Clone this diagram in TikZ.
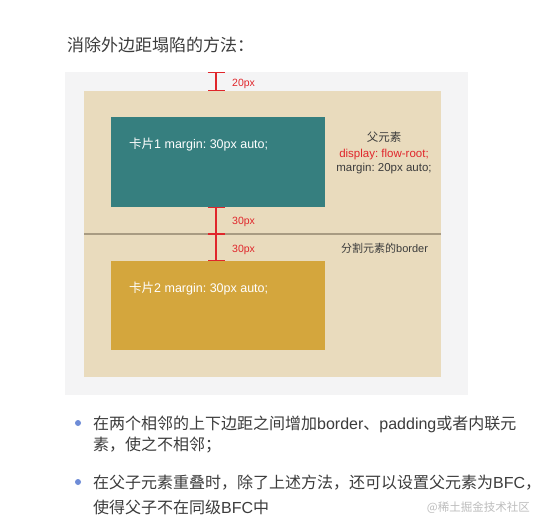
\documentclass[tikz,border=0pt]{standalone}
\usepackage{fontspec}
\setmainfont{Liberation Sans}
\newfontfamily\cjk{Noto Sans CJK SC}
\newcommand{\zh}[1]{{\cjk #1}}
\usetikzlibrary{arrows.meta}
\frenchspacing

\definecolor{pagegray}{HTML}{F4F4F5}
\definecolor{parenttan}{HTML}{E9DBBD}
\definecolor{cardteal}{HTML}{367F7F}
\definecolor{cardgold}{HTML}{D4A63D}
\definecolor{borderline}{HTML}{A89B82}
\definecolor{measurered}{HTML}{E0262B}
\definecolor{bodytext}{HTML}{3C3C3C}
\definecolor{bulletblue}{HTML}{6E8CD7}
\definecolor{marktext}{HTML}{BDBDBD}

\begin{document}
\begin{tikzpicture}
                [
                    x=1pt,y=-1pt,
                    box/.style={rectangle,draw=none,inner sep=0,anchor=north west},
                    cardtext/.style={anchor=base west,inner sep=0,text=white,font=\fontsize{12.5}{14}\selectfont},
                    note/.style={anchor=base,inner sep=0,text=#1,font=\fontsize{11.5}{13}\selectfont},
                    measure/.style={{Bar[width=17pt]}-{Bar[width=17pt]},line width=1.1pt,draw=measurered},
                    gaplabel/.style={anchor=base west,inner sep=0,text=measurered,font=\fontsize{10.5}{12}\selectfont},
                    bullettext/.style={anchor=base west,inner sep=0,text=bodytext,font=\fontsize{16}{21}\selectfont},
                ]
                \useasboundingbox (0,0) rectangle (546,526);
                \fill[white] (0,0) rectangle (546,526);

                % heading
                \node[anchor=base west,inner sep=0,text=bodytext,font=\fontsize{17}{20}\selectfont]
                    (title) at (67,52) {\zh{消除外边距塌陷的方法：}};

                % boxes
                \node[box,fill=pagegray,minimum width=403,minimum height=323] (bg) at (65,72) {};
                \node[box,fill=parenttan,minimum width=357,minimum height=286] (parent) at (84,91) {};
                \node[box,fill=cardteal,minimum width=214,minimum height=90] (card1) at (111,117) {};
                \node[box,fill=cardgold,minimum width=214,minimum height=89] (card2) at (111,261) {};
                \node[cardtext] (text1) at (129,149) {\zh{卡片}1 margin: 30px auto;};
                \node[cardtext] (text2) at (129,293) {\zh{卡片}2 margin: 30px auto;};

                % divider
                \coordinate (bl) at (84,234);
                \coordinate (br) at (441,234);
                \draw[borderline,line width=1.2pt] (bl) -- (br);

                % parent notes
                \node[note=bodytext] (pname) at (384,142) {\zh{父元素}};
                \node[note=measurered] (pdisplay) at (384,158) {display: flow-root;};
                \node[note=bodytext] (pmargin) at (384,172) {margin: 20px auto;};
                \node[note=bodytext,anchor=base west,font=\fontsize{11}{13}\selectfont] (bname) at (341,253) {\zh{分割元素的}border};

                % gaps
                \coordinate (gap) at (216,0);
                \draw[measure] (gap |- bg.north) -- (gap |- parent.north);
                \draw[measure] (gap |- card1.south) -- (gap |- bl);
                \draw[measure] (gap |- bl) -- (gap |- card2.north);
                \node[gaplabel] (g1) at (232,87) {20px};
                \node[gaplabel] (g2) at (232,225) {30px};
                \node[gaplabel] (g3) at (232,253) {30px};

                % bullet list
                \fill[bulletblue] (78,423) circle (3);
                \node[bullettext] (item1a) at (93,429) {\zh{在两个相邻的上下边距之间增加}border\zh{、}padding\zh{或者内联元}};
                \node[bullettext] (item1b) at (93,450) {\zh{素，使之不相邻；}};
                \fill[bulletblue] (78,482) circle (3);
                \node[bullettext] (item2a) at (93,488) {\zh{在父子元素重叠时，除了上述方法，还可以设置父元素为}BFC\zh{，}};
                \node[bullettext] (item2b) at (93,513) {\zh{使得父子不在同级}BFC\zh{中}};
                \node[anchor=base east,inner sep=0,text=marktext,font=\fontsize{11.5}{13}\selectfont]
                    (mark) at (530,511) {\zh{@稀土掘金技术社区}};
            \end{tikzpicture}
\end{document}
